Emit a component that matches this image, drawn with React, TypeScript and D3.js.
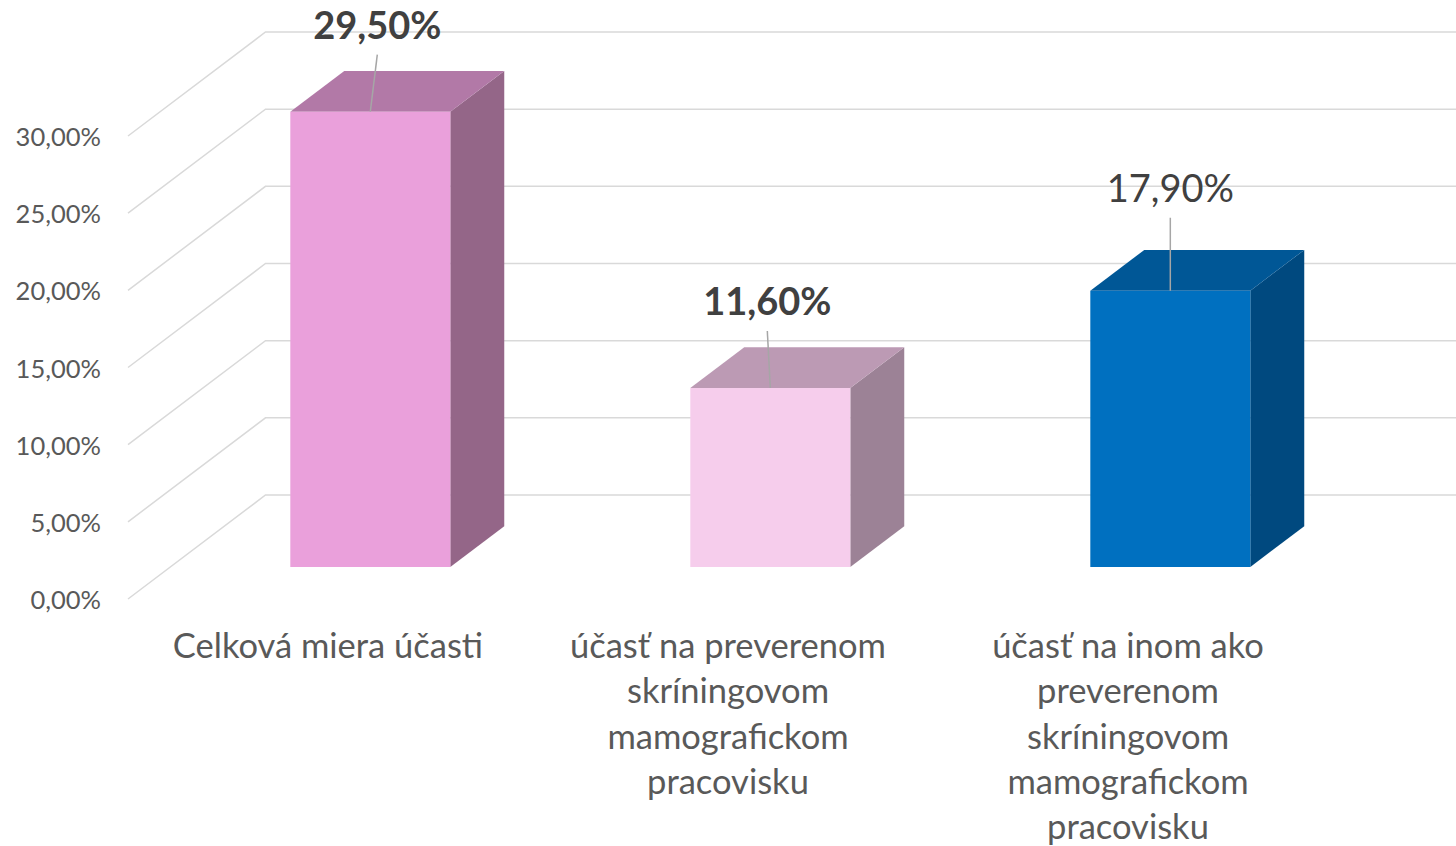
import React from "react";
import * as d3 from "d3";

const categories: string[][] = [
  ["Celková miera účasti"],
  ["účasť na preverenom", "skríningovom", "mamografickom", "pracovisku"],
  ["účasť na inom ako", "preverenom", "skríningovom", "mamografickom", "pracovisku"],
];
const values: number[] = [29.5, 11.6, 17.9];
const valueLabels: string[] = ["29,50%", "11,60%", "17,90%"];
const labelBold: boolean[] = [true, true, false];
const yTicks: number[] = [0, 5, 10, 15, 20, 25, 30];
const frontColors = ["#EAA0DB", "#F6CDEC", "#0070C0"];
const topColors = ["#B279A7", "#BC9AB4", "#005796"];
const sideColors = ["#946688", "#9C8296", "#00497F"];
// manual label placement (offset from bar top-front center, in px)
const labelOffsets: [number, number][] = [[7, -73], [-3, -73], [0, -89]];

const W = 1456;
const H = 846;
const X0 = 128; // front-left floor corner
const Y0 = 599;
const DX = 137.5; // full depth projection
const DY = 104;
const D_FRONT = 0.3077;
const D_BACK = 0.7;

export default function App() {
  const x = d3.scaleBand<number>().domain(values.map((_, i) => i)).range([0, 1200]).padding(0);
  const y = d3.scaleLinear().domain([0, 30]).range([0, 463]);
  const P = (u: number, v: number, d: number): [number, number] => [X0 + u + d * DX, Y0 - y(v) - d * DY];
  const pts = (arr: [number, number][]) => arr.map((p) => p.join(",")).join(" ");
  const fmt = (v: number) => d3.format(".2f")(v).replace(".", ",") + "%";
  const line = d3.line();

  return (
    <svg width={W} height={H} style={{ display: "block", position: "absolute", left: 0, top: 0 }}>
      <rect width={W} height={H} fill="#ffffff" />
      {yTicks.map((t) => {
        const a = P(0, t, 0);
        const b = P(0, t, 1);
        const c: [number, number] = [W, b[1]];
        return (
          <path key={"g" + t} d={line([a, b, c]) || ""} fill="none" stroke="#D9D9D9" strokeWidth={1.5} />
        );
      })}
      {yTicks.map((t) => {
        const a = P(0, t, 0);
        return (
          <text
            key={"yl" + t}
            x={101}
            y={a[1]}
            textAnchor="end"
            dominantBaseline="central"
            fontFamily="Lato"
            fontSize={25.5}
            fill="#595959"
          >
            {fmt(t)}
          </text>
        );
      })}
      {values.map((v, i) => {
        const bw = x.bandwidth() * 0.4;
        const u0 = (x(i) || 0) + x.bandwidth() / 2 - bw / 2;
        const u1 = u0 + bw;
        const fbl = P(u0, 0, D_FRONT);
        const fbr = P(u1, 0, D_FRONT);
        const ftl = P(u0, v, D_FRONT);
        const ftr = P(u1, v, D_FRONT);
        const btl = P(u0, v, D_BACK);
        const btr = P(u1, v, D_BACK);
        const bbr = P(u1, 0, D_BACK);
        return (
          <g key={"bar" + i}>
            <polygon points={pts([fbr, ftr, btr, bbr])} fill={sideColors[i]} />
            <polygon points={pts([ftl, ftr, btr, btl])} fill={topColors[i]} />
            <polygon points={pts([fbl, fbr, ftr, ftl])} fill={frontColors[i]} />
          </g>
        );
      })}
      {values.map((v, i) => {
        const uc = (x(i) || 0) + x.bandwidth() / 2;
        const top = P(uc, v, D_FRONT);
        const lx = top[0] + labelOffsets[i][0];
        const ly = top[1] + labelOffsets[i][1];
        return (
          <g key={"lab" + i}>
            <line x1={lx} y1={ly + 16} x2={top[0]} y2={top[1]} stroke="#A6A6A6" strokeWidth={1.5} />
            <text
              x={lx}
              y={ly}
              textAnchor="middle"
              fontFamily="Lato"
              fontWeight={labelBold[i] ? 700 : 400}
              fontSize={38}
              fill="#404040"
            >
              {valueLabels[i]}
            </text>
          </g>
        );
      })}
      {categories.map((lines, i) => {
        const uc = (x(i) || 0) + x.bandwidth() / 2;
        const base = P(uc, 0, 0);
        return (
          <text
            key={"cat" + i}
            textAnchor="middle"
            fontFamily="Lato"
            fontSize={34.5}
            fill="#595959"
          >
            {lines.map((ln, j) => (
              <tspan key={j} x={base[0]} y={658 + j * 45.3}>
                {ln}
              </tspan>
            ))}
          </text>
        );
      })}
    </svg>
  );
}
